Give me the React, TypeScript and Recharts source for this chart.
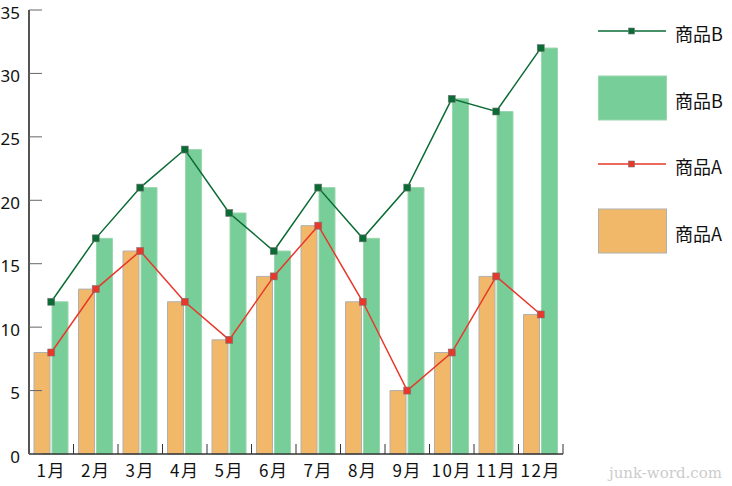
import React from 'react';
import { ComposedChart, Bar, Line, XAxis, YAxis } from 'recharts';

const months = ['1月', '2月', '3月', '4月', '5月', '6月', '7月', '8月', '9月', '10月', '11月', '12月'];
const productA = [8, 13, 16, 12, 9, 14, 18, 12, 5, 8, 14, 11];
const productB = [12, 17, 21, 24, 19, 16, 21, 17, 21, 28, 27, 32];
const yTicks = [0, 5, 10, 15, 20, 25, 30, 35];

const data = months.map((m, i) => ({ month: m, a: productA[i], b: productB[i] }));

const CHART_W = 732;
const CHART_H = 486;
const MARGIN_RIGHT = 169;
const Y_AXIS_W = 29;
const BAND = (CHART_W - MARGIN_RIGHT - Y_AXIS_W) / months.length;

const ORANGE = '#F0B868';
const GREEN = '#78CE98';
const LINE_A = '#E8372B';
const LINE_B = '#0B6B34';
const FONT = '"Noto Sans CJK JP", "Noto Sans", sans-serif';
const NUM_FONT = '"Noto Sans", "DejaVu Sans", sans-serif';

const SquareDot = (color: string) => (props: any) => {
  const { cx, cy, index } = props;
  if (cx == null || cy == null) return <g key={index} />;
  return <rect key={index} x={cx - 3.5} y={cy - 3.5} width={7} height={7} fill={color} stroke="#777" strokeWidth={0.6} />;
};

const YTick = (props: any) => {
  const { x, y, payload } = props;
  return (
    <g>
      <line x1={x + 9} x2={x + 22} y1={y} y2={y} stroke="#666" strokeWidth={1} />
      <text x={x} y={y} dy={8.5} textAnchor="end" fontSize={17} fill="#111" fontFamily={NUM_FONT}>
        {payload.value}
      </text>
    </g>
  );
};

const XTick = (props: any) => {
  const { x, y, payload } = props;
  const bx = x + BAND / 2;
  return (
    <g>
      <line x1={bx} x2={bx} y1={y - 10} y2={y} stroke="#333" strokeWidth={1} />
      <text x={x} y={y} dy={23} textAnchor="middle" fontSize={17} letterSpacing={1.5} fill="#111" fontFamily={FONT}>
        {payload.value}
      </text>
    </g>
  );
};

const legendItems = [
  { kind: 'line', name: '商品B', color: LINE_B },
  { kind: 'bar', name: '商品B', color: GREEN, stroke: '#9ad7ae' },
  { kind: 'line', name: '商品A', color: LINE_A },
  { kind: 'bar', name: '商品A', color: ORANGE, stroke: '#b0b0b0' },
];
const legendRowCenters = [31, 98, 164, 231];

export default function App() {
  return (
    <div style={{ position: 'absolute', left: 0, top: 0, width: CHART_W, height: CHART_H, background: '#fff' }}>
      <ComposedChart
        width={CHART_W}
        height={CHART_H}
        data={data}
        margin={{ top: 10, right: MARGIN_RIGHT, left: 0, bottom: 0 }}
        barGap={2}
      >
        <XAxis
          dataKey="month"
          height={32}
          tickLine={false}
          tickSize={0}
          tickMargin={0}
          axisLine={{ stroke: '#333', strokeWidth: 1.5 }}
          tick={<XTick />}
          interval={0}
        />
        <YAxis
          width={Y_AXIS_W}
          domain={[0, 35]}
          ticks={yTicks}
          tickSize={0}
          tickMargin={9}
          tickLine={false}
          axisLine={{ stroke: '#555', strokeWidth: 2 }}
          tick={<YTick />}
          interval={0}
        />
        <Bar dataKey="a" name="商品A" fill={ORANGE} stroke="#b0b0b0" strokeWidth={1} barSize={16} isAnimationActive={false} />
        <Bar dataKey="b" name="商品B" fill={GREEN} stroke="#9ad7ae" strokeWidth={1} barSize={16} isAnimationActive={false} />
        <Line dataKey="a" name="商品A" stroke={LINE_A} strokeWidth={1.5} dot={SquareDot(LINE_A)} activeDot={false} isAnimationActive={false} />
        <Line dataKey="b" name="商品B" stroke={LINE_B} strokeWidth={1.5} dot={SquareDot(LINE_B)} activeDot={false} isAnimationActive={false} />
      </ComposedChart>
      <svg width={142} height={280} style={{ position: 'absolute', left: 590, top: 0 }}>
        {legendItems.map((it, i) => {
          const cy = legendRowCenters[i];
          return (
            <g key={i}>
              {it.kind === 'line' ? (
                <g>
                  <line x1={8} x2={76} y1={cy} y2={cy} stroke={it.color} strokeWidth={1.5} />
                  <rect x={38.5} y={cy - 3} width={6} height={6} fill={it.color} stroke="#777" strokeWidth={0.6} />
                </g>
              ) : (
                <rect x={8.5} y={cy - 22} width={68} height={44} fill={it.color} stroke={it.stroke} strokeWidth={1} />
              )}
              <text x={85} y={cy} dy={10} fontSize={18} fill="#111" fontFamily={FONT}>
                {it.name}
              </text>
            </g>
          );
        })}
      </svg>
      <div
        style={{
          position: 'absolute',
          left: 609,
          top: 464,
          fontFamily: '"DejaVu Serif", "Liberation Serif", serif',
          fontSize: 15,
          color: '#cccccc',
        }}
      >
        junk-word.com
      </div>
    </div>
  );
}
